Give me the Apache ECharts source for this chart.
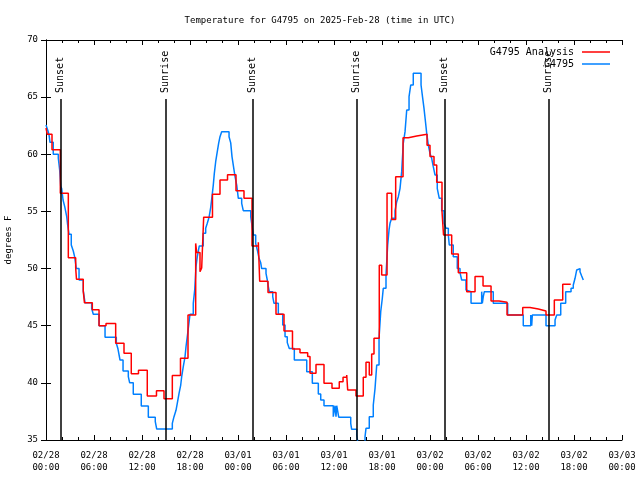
<!DOCTYPE html>
<html><head><meta charset="utf-8">
<script src="https://cdn.jsdelivr.net/npm/echarts@6/dist/echarts.min.js"></script>
<style>html,body{margin:0;padding:0;background:#fff}#c{width:640px;height:480px}</style>
</head><body><div id="c"></div>
<script>
// hours since 2025-02-28 00:00 UTC
var redHours = [0.00,0.16,0.75,1.79,2.79,3.71,3.81,4.66,4.81,5.79,6.63,7.50,8.71,9.75,10.66,11.56,12.66,13.81,14.75,15.79,16.81,17.75,18.71,18.84,19.25,19.46,19.71,20.81,21.75,22.69,23.75,24.75,25.75,26.54,26.71,27.75,28.75,29.75,30.81,31.75,32.71,33.00,33.75,34.75,35.75,36.66,37.13,37.59,37.71,38.75,39.66,40.00,40.41,40.71,41.00,41.66,41.96,42.63,43.21,43.71,44.63,45.29,46.34,47.63,48.00,48.50,48.84,49.50,49.69,50.71,51.54,52.59,53.63,54.63,55.63,56.63,57.63,59.59,60.50,61.54,62.50,63.54,64.59,65.59];
var redTemps = [62.3,61.75,60.4,56.6,50.95,50.05,49.06,48.0,47.0,46.4,45.0,45.2,43.46,42.6,40.8,41.1,38.85,39.3,38.6,40.65,42.15,45.94,52.2,51.4,49.73,50.05,54.5,56.5,57.75,58.2,56.8,56.15,51.98,52.3,48.9,47.9,46.0,44.54,42.96,42.64,42.3,40.84,41.6,39.96,39.52,40.1,40.5,40.69,39.37,38.85,40.49,41.8,40.69,42.53,43.9,50.3,49.44,56.6,54.3,58.04,61.45,61.6,61.75,60.8,59.8,59.06,57.55,55.0,52.94,51.28,49.64,47.98,49.3,48.48,47.16,47.05,45.94,46.6,46.46,46.29,45.94,47.25,48.62,48.62];
var blueHours = [0.00,0.25,0.38,0.50,0.91,1.54,1.71,1.84,1.96,2.13,2.34,2.46,2.59,2.71,2.88,3.16,3.41,3.59,3.79,4.13,4.66,4.88,5.71,5.91,6.63,7.38,8.79,9.00,9.25,9.63,10.29,10.46,10.91,11.91,12.79,13.66,13.84,15.79,16.00,16.25,16.41,16.63,16.84,16.96,17.16,17.38,17.50,17.66,17.84,18.00,18.41,18.59,18.66,18.75,18.91,19.16,19.66,19.96,20.16,20.38,20.59,20.75,20.91,21.04,21.21,21.41,21.59,21.75,21.96,22.88,23.09,23.25,23.41,23.63,23.84,24.04,24.46,24.66,25.59,25.71,25.91,26.21,26.46,26.63,26.84,26.96,27.50,27.66,27.79,27.91,28.34,28.50,29.04,29.59,29.88,30.16,30.41,31.04,32.59,33.29,34.04,34.34,34.75,35.91,36.13,36.25,36.34,36.59,38.09,38.21,38.84,39.04,39.50,39.88,40.00,40.41,40.91,41.13,41.34,41.63,41.84,42.04,42.16,42.50,42.71,42.88,43.00,43.21,43.63,43.84,44.04,44.25,44.46,44.66,44.88,45.09,45.38,45.59,45.91,46.88,47.09,47.25,47.41,47.59,47.79,48.00,48.21,48.41,48.63,48.91,49.16,49.46,49.75,50.00,50.29,50.41,50.91,51.41,51.75,51.96,52.50,52.66,53.13,54.46,54.54,54.66,54.79,55.91,57.71,59.66,60.59,60.71,60.79,62.50,63.63,63.84,64.34,64.96,65.63,65.91,66.13,66.34,66.50,66.75,66.96,67.16];
var blueTemps = [62.56,62.04,61.69,61.05,60.0,59.65,58.6,57.2,57.0,56.0,55.42,55.0,54.54,53.8,53.0,52.06,51.54,51.0,50.0,49.0,48.04,47.0,46.5,46.0,45.0,44.0,43.46,42.96,42.0,41.04,40.54,40.0,39.0,37.98,37.0,36.6,35.96,36.46,37.04,37.6,38.21,39.08,39.81,40.54,41.42,42.3,43.16,44.04,45.06,46.0,46.96,48.13,49.0,50.17,51.04,51.98,53.08,53.52,53.96,54.49,55.36,56.29,57.3,58.33,59.35,60.23,61.0,61.54,61.98,61.54,61.0,59.8,59.06,58.04,57.31,56.15,55.71,55.07,54.54,53.96,52.94,52.2,51.48,50.9,50.5,50.0,49.58,49.0,48.41,47.98,47.54,46.96,46.0,45.06,44.04,43.52,43.0,42.0,40.98,39.96,39.03,38.5,38.0,37.04,38.0,37.04,38.0,37.0,36.46,35.94,35.44,34.5,34.3,35.3,36.02,37.04,38.06,39.52,41.56,43.9,46.23,47.4,48.27,49.44,52.06,53.38,53.96,54.4,55.07,55.85,56.29,57.0,58.48,60.96,61.98,63.88,65.04,66.06,67.08,66.06,64.9,64.02,63.0,61.83,60.81,60.08,59.65,58.92,58.19,57.0,56.15,55.07,53.96,53.52,52.94,52.06,51.04,50.0,49.64,49.0,48.13,47.98,46.96,47.98,46.96,47.54,47.98,46.96,45.94,45.0,45.94,45.0,45.94,45.0,45.5,45.94,46.96,47.98,48.27,48.56,49.15,49.88,50.0,49.73,49.35,49.0];
var sunHours = [1.79,14.91,25.79,38.79,49.79,62.79];
var sunLabels = ['Sunset','Sunrise','Sunset','Sunrise','Sunset','Sunrise'];
var sunLineTop = 64.84;
var xTickLabels = ['02/28\n00:00','02/28\n06:00','02/28\n12:00','02/28\n18:00','03/01\n00:00','03/01\n06:00','03/01\n12:00','03/01\n18:00','03/02\n00:00','03/02\n06:00','03/02\n12:00','03/02\n18:00','03/03\n00:00'];
var yTicks = [35,40,45,50,55,60,65,70];
var titleText = 'Temperature for G4795 on 2025-Feb-28 (time in UTC)';
var yName = 'degrees F';
var redName = 'G4795 Analysis', blueName = 'G4795';

var FONT = 'DejaVu Sans Mono';
function zip(a,b){return a.map(function(v,i){return [v,b[i]];});}
var chart = echarts.init(document.getElementById('c'), null, {renderer:'canvas'});
var axisCommon = {
  axisLine:{show:true,lineStyle:{color:'#000',width:1}},
  axisTick:{show:true,inside:true,length:5,lineStyle:{color:'#000'}},
  splitLine:{show:false}
};
var option = {
  animation:false,
  backgroundColor:'#fff',
  title:{text:titleText,left:'center',top:11,textStyle:{fontFamily:FONT,fontSize:9,fontWeight:'normal',color:'#000'}},
  legend:{orient:'vertical',right:25,top:41,align:'right',icon:'rect',itemWidth:28,itemHeight:1.5,itemGap:0,
    textStyle:{fontFamily:FONT,fontSize:10,color:'#000',lineHeight:12,padding:[0,3,0,0]},
    data:[{name:redName},{name:blueName}]},
  grid:{left:46,right:18,top:40,bottom:40,containLabel:false,outerBoundsMode:'none'},
  xAxis:[
    Object.assign({},axisCommon,{type:'value',min:0,max:72,interval:6,position:'bottom',
      minorTick:{show:true,splitNumber:3,length:3,lineStyle:{color:'#000'}},
      axisLabel:{fontFamily:FONT,fontSize:9,color:'#000',margin:10,lineHeight:12,
        formatter:function(v){return xTickLabels[Math.round(v/6)];}}}),
    Object.assign({},axisCommon,{type:'value',min:0,max:72,interval:6,position:'top',
      minorTick:{show:true,splitNumber:3,length:3,lineStyle:{color:'#000'}},
      axisLabel:{show:false}})
  ],
  yAxis:[
    Object.assign({},axisCommon,{type:'value',min:35,max:70,interval:5,position:'left',
      name:yName,nameLocation:'middle',nameRotate:90,nameGap:33,
      nameTextStyle:{fontFamily:FONT,fontSize:9,color:'#000'},
      axisLabel:{fontFamily:FONT,fontSize:9,color:'#000',margin:8,
        formatter:function(v){return yTicks.indexOf(v)>=0?String(v):'';}}}),
    Object.assign({},axisCommon,{type:'value',min:35,max:70,interval:5,position:'right',axisLabel:{show:false}})
  ],
  series:[
    {name:redName,type:'line',step:'end',data:zip(redHours,redTemps),showSymbol:false,symbol:'none',
      lineStyle:{color:'#ff0000',width:1.5},itemStyle:{color:'#ff0000'},z:3,
      markLine:{silent:true,symbol:['none','none'],label:{show:false},
        lineStyle:{color:'#000',width:1.5,type:'solid'},
        data:sunHours.map(function(h){return [{coord:[h,35]},{coord:[h,sunLineTop]}];})}},
    {name:blueName,type:'line',step:'end',data:zip(blueHours,blueTemps),showSymbol:false,symbol:'none',
      lineStyle:{color:'#0080ff',width:1.5},itemStyle:{color:'#0080ff'},z:2}
  ]
};
chart.setOption(option);
var g = sunHours.map(function(h,i){
  var p = chart.convertToPixel({gridIndex:0},[h,sunLineTop]);
  return {type:'text',x:p[0],y:p[1]-6,rotation:Math.PI/2,z:10,
    style:{text:sunLabels[i],font:'10px '+FONT,fill:'#000',align:'left',verticalAlign:'middle'}};
});
chart.setOption({graphic:g});
</script></body></html>
